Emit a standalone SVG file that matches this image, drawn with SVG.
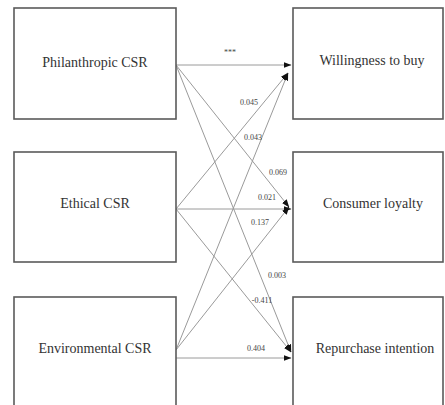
<svg xmlns="http://www.w3.org/2000/svg" width="445" height="405" viewBox="0 0 445 405">
  <style>
    .box { fill: #ffffff; stroke: #5a5a5a; stroke-width: 1.6; }
    .lbl { font-family: "Liberation Serif", "Times New Roman", serif; font-size: 14px; fill: #333333; text-anchor: middle; }
    .coef { font-family: "Liberation Serif", "Times New Roman", serif; font-size: 8px; fill: #444444; text-anchor: middle; }
    .edge { stroke: #9a9a9a; stroke-width: 1; fill: none; marker-end: url(#arrow); }
  </style>
  <defs>
    <marker id="arrow" viewBox="0 0 8 6" refX="7.5" refY="3" markerWidth="8" markerHeight="6" markerUnits="userSpaceOnUse" orient="auto">
      <path d="M0,0 L8,3 L0,6 Z" fill="#111111"/>
    </marker>
  </defs>
  <rect width="445" height="405" fill="#ffffff"/>

  <!-- paths between constructs -->
  <g id="connectors">
    <line class="edge" x1="176" y1="65" x2="291" y2="65"/>
    <line class="edge" x1="176" y1="65" x2="289" y2="207"/>
    <line class="edge" x1="176" y1="65" x2="291" y2="352"/>
    <line class="edge" x1="176" y1="209" x2="288" y2="73"/>
    <line class="edge" x1="176" y1="209" x2="291" y2="209"/>
    <line class="edge" x1="176" y1="209" x2="291" y2="352"/>
    <line class="edge" x1="176" y1="350" x2="288" y2="73"/>
    <line class="edge" x1="176" y1="350" x2="289" y2="207"/>
    <line class="edge" x1="176" y1="358" x2="291" y2="358"/>
  </g>

  <!-- path coefficients -->
  <g id="coefficients">
    <text class="coef" x="230" y="55">***</text>
    <text class="coef" x="249" y="105">0.045</text>
    <text class="coef" x="253" y="140">0.043</text>
    <text class="coef" x="278" y="175">0.069</text>
    <text class="coef" x="267" y="200">0.021</text>
    <text class="coef" x="260" y="225">0.137</text>
    <text class="coef" x="277" y="278">0.003</text>
    <text class="coef" x="262" y="303">-0.411</text>
    <text class="coef" x="256" y="351">0.404</text>
  </g>

  <g id="philanthropic">
    <rect class="box" x="14" y="8" width="162" height="111"/>
    <text class="lbl" x="95" y="67">Philanthropic CSR</text>
  </g>
  <g id="ethical">
    <rect class="box" x="14" y="152" width="162" height="110"/>
    <text class="lbl" x="95" y="208">Ethical CSR</text>
  </g>
  <g id="environmental">
    <rect class="box" x="14" y="297" width="162" height="120"/>
    <text class="lbl" x="95" y="353">Environmental CSR</text>
  </g>
  <g id="willingness">
    <rect class="box" x="293" y="8" width="150" height="111"/>
    <text class="lbl" x="372" y="65">Willingness to buy</text>
  </g>
  <g id="loyalty">
    <rect class="box" x="293" y="152" width="150" height="110"/>
    <text class="lbl" x="373" y="208">Consumer loyalty</text>
  </g>
  <g id="repurchase">
    <rect class="box" x="293" y="297" width="150" height="120"/>
    <text class="lbl" x="375" y="353">Repurchase intention</text>
  </g>
</svg>
